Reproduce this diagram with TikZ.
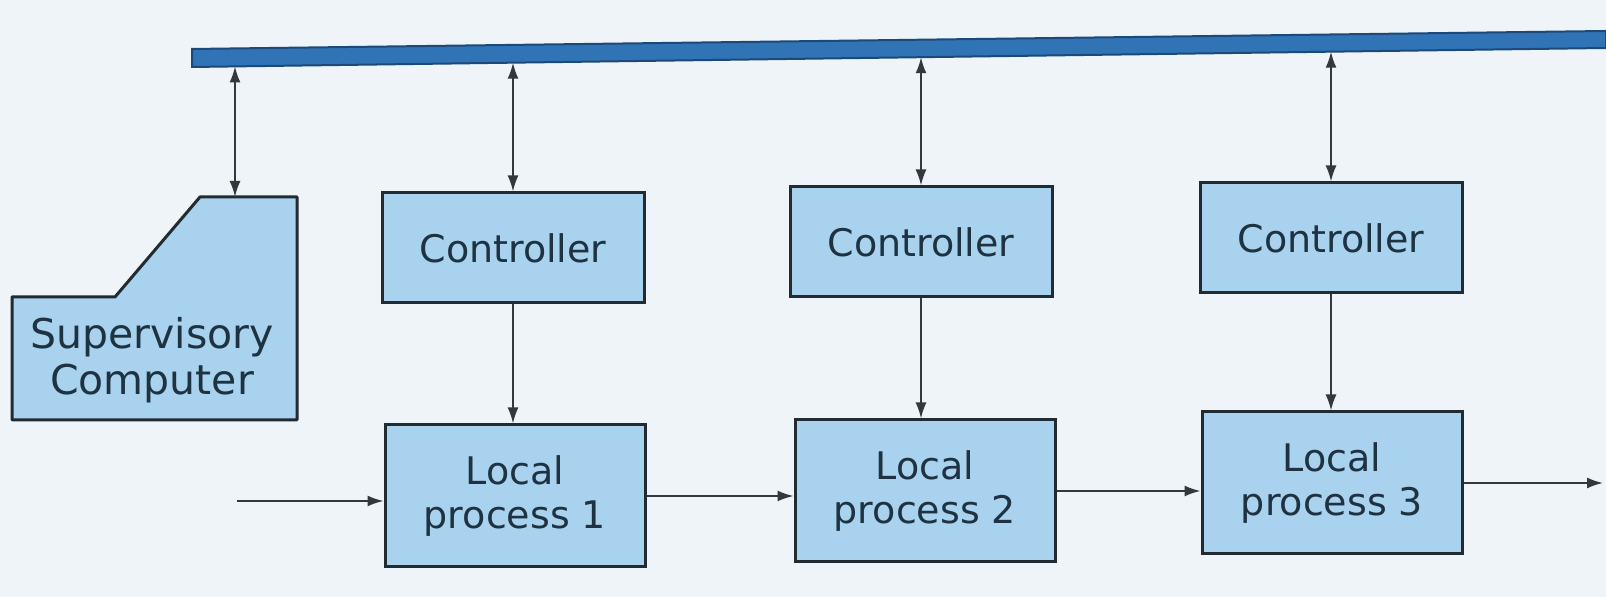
\documentclass[tikz,border=0pt]{standalone}
\usepackage{fontspec}
\setmainfont{DejaVu Sans}
\usetikzlibrary{positioning,calc,arrows.meta}
\definecolor{paper}{RGB}{239,244,248}
\definecolor{boxblue}{RGB}{168,210,238}
\definecolor{edgegray}{RGB}{34,42,50}
\definecolor{inkblue}{RGB}{30,50,66}
\definecolor{busblue}{RGB}{48,116,182}
\definecolor{busdark}{RGB}{28,72,122}
\definecolor{linegray}{RGB}{50,56,62}

\begin{document}
\begin{tikzpicture}[x=0.5pt,y=0.5pt,
  		block/.style={rectangle,draw=edgegray,line width=1.5pt,fill=boxblue,text=inkblue,align=center,font=\fontsize{19}{22}\selectfont},
  		ctrl/.style={block,minimum width=131pt,minimum height=55pt},
  		proc/.style={block,minimum width=130pt,minimum height=71pt},
  		link/.style={draw=linegray,line width=0.9pt,-{Latex[length=8pt,width=5.5pt]}},
  		twoway/.style={link,{Latex[length=8pt,width=5.5pt]}-{Latex[length=8pt,width=5.5pt]}}]
    		% Page
    		\fill[paper] (0,0) rectangle (1606,597);
    		\useasboundingbox (0,0) rectangle (1606,597);
    		% Bus
    		\filldraw[fill=busblue,draw=busdark,line width=1pt]
    			(192,530) coordinate (busSW) -- (192,548) -- (1606,566) -- (1606,549) coordinate (busSE) -- cycle;
    		% Supervisory computer
    		\filldraw[fill=boxblue,draw=edgegray,line width=1.5pt,line join=round]
    			(12,177) -- (297,177) -- (297,400) -- (200,400) -- (115,300) -- (12,300) -- cycle;
    		\coordinate (supTop) at (235,400);
    		\node[text=inkblue,align=center,font=\fontsize{20.5}{23}\selectfont] (sup) at (152,237) {Supervisory\\Computer};
    		% Controllers
    		\node[ctrl] (c1) at (513,349) {Controller};
    		\node[ctrl] (c2) at (921,355) {Controller};
    		\node[ctrl] (c3) at (1331,359) {Controller};
    		% Local processes
    		\node[proc] (lp1) at (515,101) {Local\\process 1};
    		\node[proc] (lp2) at (925,106) {Local\\process 2};
    		\node[proc] (lp3) at (1332,114) {Local\\process 3};
    		\coordinate (in) at (237,96);
    		\coordinate (out) at (1603,114);
    		% Connections
    		\coordinate (tsup) at ($(busSW)!(supTop)!(busSE)$);
    		\draw[twoway] (tsup -| supTop) -- (supTop);
    		\foreach \c/\p in {c1/lp1,c2/lp2,c3/lp3}{
    			\coordinate (t\c) at ($(busSW)!(\c.north)!(busSE)$);
    			\draw[twoway] (t\c -| \c.north) -- (\c.north);
    			\draw[link] (\c.south) -- (\c.south |- \p.north);
    		}
    		\draw[link] (in) -- (in -| lp1.west);
    		\draw[link] (lp1.east) -- (lp1.east -| lp2.west);
    		\draw[link] (lp2.east) -- (lp2.east -| lp3.west);
    		\draw[link] (lp3.east) -- (lp3.east -| out);
	\end{tikzpicture}
\end{document}
